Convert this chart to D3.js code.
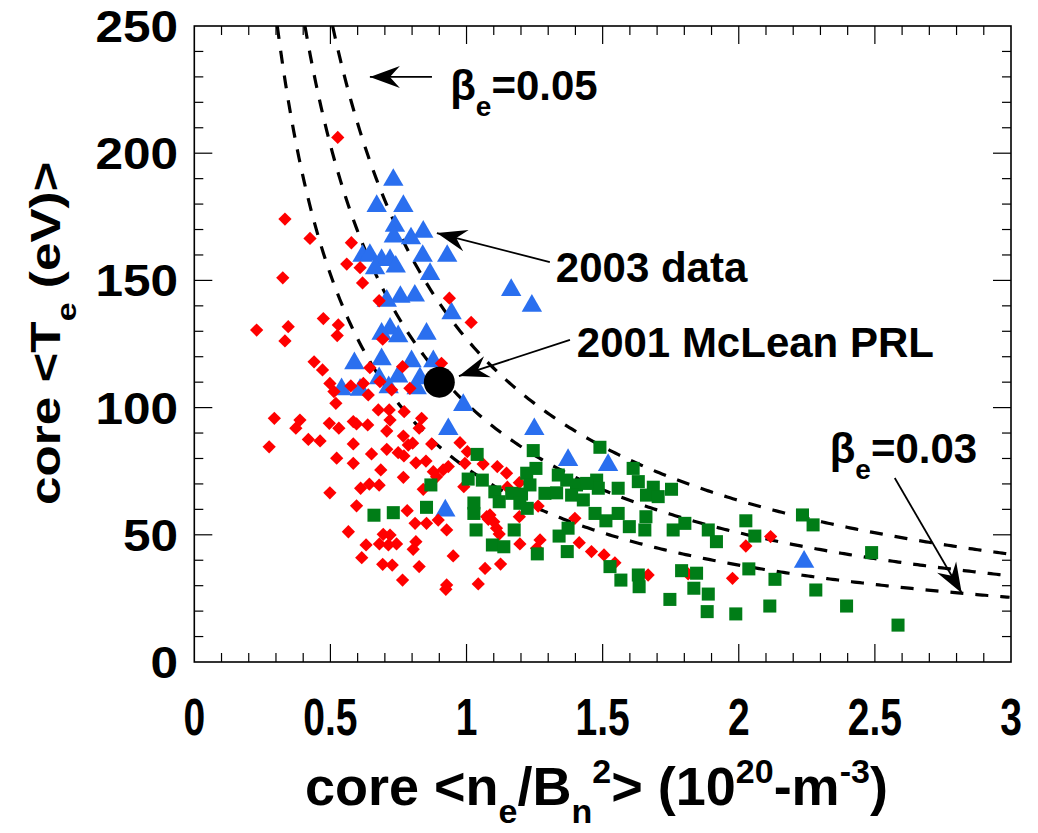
<!DOCTYPE html>
<html>
<head>
<meta charset="utf-8">
<script src="https://cdn.jsdelivr.net/npm/d3@7"></script>
<style>
  body { margin: 0; background: #fff; }
  svg { font-family: "Liberation Sans", Arial, Helvetica, sans-serif; font-weight: bold; }
</style>
</head>
<body>
<script>
// red diamonds: [n/B^2, Te]
const red = [
  [0.527,206.2],[0.333,174.1],[0.425,166.5],[0.577,164.8],[0.560,156.4],[0.609,155],[0.325,151],[0.618,149],
  [0.679,142],[0.937,143],[0.474,135],[1.017,133.5],[0.229,130.5],[0.345,131.8],[0.333,126.2],[0.529,132.5],
  [0.525,128.3],[0.692,126.9],[0.440,118],[0.471,114.8],[0.645,115.7],[0.765,116.1],[0.908,117.4],[0.498,109.5],
  [0.513,106.3],[0.520,101.7],[0.575,108.5],[0.621,109.5],[0.639,105],[0.682,110.2],[0.725,107],[0.792,107.6],
  [0.294,95.8],[0.388,95.1],[0.373,91.9],[0.419,87.5],[0.462,86.9],[0.275,84.6],[0.496,93.8],[0.531,91.9],
  [0.584,94.5],[0.596,93.6],[0.637,93.2],[0.676,99.1],[0.716,99.1],[0.719,95.1],[0.707,90.8],[0.771,98.4],
  [0.835,95.8],[0.826,91.9],[0.768,88.8],[0.802,86],[0.786,85.3],[0.872,85.7],[0.976,86.2],[0.584,85.7],
  [0.707,83.6],[0.749,82.3],[0.770,81],[0.523,80.1],[0.584,78.1],[0.651,81.8],[0.814,78.3],[0.851,79],
  [1.003,82.7],[0.685,75.5],[0.768,72.6],[0.878,74.8],[0.933,76.8],[0.994,78.1],[1.061,77.8],[0.611,68.3],
  [0.643,69.9],[0.679,69.5],[0.498,66.5],[0.841,67.9],[0.890,72.8],[0.914,75.5],[0.990,68.9],[0.596,61.4],
  [0.782,59.5],[0.811,54.5],[0.853,54.5],[0.896,55.8],[0.927,51.9],[0.566,51.2],[0.631,46],[0.680,46.4],
  [0.719,49.9],[0.713,46],[0.743,46.4],[0.694,50.2],[0.814,47.3],[0.804,44.3],[0.615,41],[0.692,38.4],
  [0.727,38.1],[0.826,37.5],[0.951,41.7],[0.765,32.2],[0.927,30.3],[0.924,28.6],[1.043,30.7],[1.068,36.8],
  [1.074,57.1],[1.113,76.8],[1.147,74.2],[1.194,70.5],[1.15,68.7],[1.086,57.8],[1.08,56.1],[1.10,55.1],
  [1.11,52.6],[1.12,50.3],[1.194,57.1],[1.263,61.3],[1.27,48],[1.196,46.4],[1.398,56.5],[1.414,46.9],
  [1.459,43.4],[1.505,42.1],[1.545,39],[1.667,34.2],[1.814,34.6],[1.125,38.5],[1.257,44.7],[2.117,49.3],
  [2.026,45.6],[1.977,32.9]
];

// blue triangles: 2003 data
const blue = [
  [0.731,189.5],[0.670,179.2],[0.768,179.2],[0.737,171.4],[0.841,169.1],[0.733,167.2],[0.796,166.5],
  [0.618,159.6],[0.645,160],[0.688,158],[0.719,158],[0.740,155.4],[0.664,154.7],[0.839,159.6],[0.929,159.6],
  [0.866,152.5],[0.757,143.5],[0.810,144],[0.707,142],[0.945,137],[0.719,131],[0.688,129],[0.749,128],
  [0.853,129],[0.588,117.4],[0.688,119],[0.798,118.2],[0.878,118.2],[0.679,111.5],[0.749,112.2],[0.829,111.5],
  [0.541,107.2],[0.609,107],[0.714,108],[0.817,107.6],[0.988,101],[0.933,91.5],[1.164,146.2],[1.24,140],
  [1.249,91.5],[1.373,79.4],[1.52,77.4],[2.24,39.4],[0.922,59.5]
];

// green squares
const green = [
  [1.039,81.6],[0.869,69.6],[1.006,71.9],[1.058,71.5],[0.66,57.7],[0.731,58.7],[0.853,60.8],[1.027,62.5],
  [1.027,58.4],[1.035,51.9],[1.095,46],[1.245,83.1],[1.49,84.4],[1.255,76.1],[1.221,74.2],[1.337,73.5],
  [1.368,71.5],[1.404,69.6],[1.478,71.5],[1.484,68.3],[1.441,70.2],[1.104,66.9],[1.166,66.3],[1.202,66],
  [1.233,69.6],[1.288,66.3],[1.331,66.5],[1.386,65.6],[1.429,63.7],[1.557,68.3],[1.612,76.1],[1.631,70.9],
  [1.686,68.7],[1.753,67.9],[1.661,65.6],[1.704,65],[1.12,63],[1.196,62.4],[1.223,60.4],[1.472,58.4],
  [1.512,55.5],[1.557,58.4],[1.659,57.1],[1.598,53.2],[1.655,51.9],[1.175,51.9],[1.34,49.5],[1.373,52.6],
  [1.137,45.3],[1.26,42.5],[1.37,43.4],[1.759,51.9],[1.802,54.5],[1.888,51.9],[1.918,47.3],[1.527,37.5],
  [1.567,32.2],[1.631,34.2],[1.634,29.6],[1.790,35.9],[1.845,34.9],[1.835,29],[1.888,26.7],[1.747,24.6],
  [1.884,19.8],[2.026,55.5],[2.059,49.5],[2.234,57.8],[2.273,53.9],[2.488,43],[1.989,18.9],[2.037,36.6],
  [2.133,32.5],[2.114,22],[2.283,28.3],[2.396,22],[2.585,14.5]
];

// 2001 McLean PRL point
const mclean = [[0.90,110]];

// constant-beta curves: Te = k * beta / (n/B^2)
const betas = [0.03, 0.04, 0.05];
const betaK = 2540;

const xTicks = [0, 0.5, 1, 1.5, 2, 2.5, 3];
const yTicks = [0, 50, 100, 150, 200, 250];

const W = 1038, H = 833;
const svg = d3.select("body").append("svg").attr("width", W).attr("height", H);

const x = d3.scaleLinear().domain([0, 3]).range([194.3, 1011]);
const y = d3.scaleLinear().domain([0, 250]).range([662, 26]);

svg.append("defs").append("clipPath").attr("id", "clip")
  .append("rect").attr("x", x(0)).attr("y", y(250)).attr("width", x(3) - x(0)).attr("height", y(0) - y(250));

// beta curves
const line = d3.line().x(d => x(d[0])).y(d => y(d[1]));
const curves = svg.append("g").attr("clip-path", "url(#clip)");
betas.forEach(b => {
  const c = b * betaK;
  const pts = d3.range(c / 250, 3.001, 0.01).map(v => [v, c / v]);
  curves.append("path").attr("d", line(pts))
    .attr("fill", "none").attr("stroke", "#000").attr("stroke-width", 3.2)
    .attr("stroke-dasharray", "13,12");
});

// markers
const pts = svg.append("g");
pts.selectAll(".tri").data(blue).join("path")
  .attr("d", d3.symbol(d3.symbolTriangle, 180))
  .attr("transform", d => `translate(${x(d[0])},${y(d[1])})`)
  .attr("fill", "#2a6fef");
pts.selectAll(".dia").data(red).join("path")
  .attr("d", d3.symbol(d3.symbolSquare, 88))
  .attr("transform", d => `translate(${x(d[0])},${y(d[1])}) rotate(45)`)
  .attr("fill", "#ff0000");
pts.selectAll(".sq").data(green).join("path")
  .attr("d", d3.symbol(d3.symbolSquare, 170))
  .attr("transform", d => `translate(${x(d[0])},${y(d[1])})`)
  .attr("fill", "#007d17");
pts.selectAll(".dot").data(mclean).join("circle")
  .attr("cx", d => x(d[0])).attr("cy", d => y(d[1])).attr("r", 15.5)
  .attr("fill", "#000");

// frame + ticks (inward, all four sides)
const axes = svg.append("g").attr("stroke", "#000").attr("fill", "none");
axes.append("rect").attr("x", x(0)).attr("y", y(250)).attr("width", x(3) - x(0)).attr("height", y(0) - y(250))
  .attr("stroke-width", 1.6);
const xt = d3.range(1, 30).map(i => i / 10);
xt.forEach(v => {
  const len = Math.abs(v * 2 - Math.round(v * 2)) < 1e-6 ? 18 : 9;
  axes.append("line").attr("x1", x(v)).attr("x2", x(v)).attr("y1", y(0)).attr("y2", y(0) - len).attr("stroke-width", 1.2);
  axes.append("line").attr("x1", x(v)).attr("x2", x(v)).attr("y1", y(250)).attr("y2", y(250) + len).attr("stroke-width", 1.2);
});
d3.range(10, 250, 10).forEach(v => {
  const len = v % 50 === 0 ? 18 : 9;
  axes.append("line").attr("y1", y(v)).attr("y2", y(v)).attr("x1", x(0)).attr("x2", x(0) + len).attr("stroke-width", 1.2);
  axes.append("line").attr("y1", y(v)).attr("y2", y(v)).attr("x1", x(3)).attr("x2", x(3) - len).attr("stroke-width", 1.2);
});

// tick labels
svg.append("g").selectAll("text").data(xTicks).join("text")
  .attr("transform", d => `translate(${x(d)},735) scale(0.75,1)`)
  .attr("text-anchor", "middle").attr("font-size", 52)
  .text(d => d);
svg.append("g").selectAll("text").data(yTicks).join("text")
  .attr("transform", d => `translate(178,${y(d) + 16}) scale(1.1,1)`)
  .attr("text-anchor", "end").attr("font-size", 45)
  .text(d => d);

// axis titles
const xt1 = svg.append("text").attr("transform", "translate(305,805) scale(1.0,1)").attr("font-size", 54);
xt1.append("tspan").text("core <n");
xt1.append("tspan").attr("font-size", 34).attr("dy", 18).text("e");
xt1.append("tspan").attr("dy", -18).text("/B");
xt1.append("tspan").attr("font-size", 34).attr("dy", 18).text("n");
xt1.append("tspan").attr("font-size", 34).attr("dy", -40).text("2");
xt1.append("tspan").attr("dy", 22).text("> (10");
xt1.append("tspan").attr("font-size", 34).attr("dy", -22).text("20");
xt1.append("tspan").attr("dy", 22).text("-m");
xt1.append("tspan").attr("font-size", 34).attr("dy", -22).text("-3");
xt1.append("tspan").attr("dy", 22).text(")");

const yt1 = svg.append("text").attr("transform", "translate(60,505) rotate(-90) scale(1.22,1)").attr("font-size", 42);
yt1.append("tspan").text("core <T");
yt1.append("tspan").attr("font-size", 28).attr("dy", 16).text("e");
yt1.append("tspan").attr("dy", -16).text(" (eV)>");

// annotations
function arrow(x1, y1, x2, y2) {
  const a = Math.atan2(y(y2) - y(y1), x(x2) - x(x1)) * 180 / Math.PI;
  svg.append("line").attr("x1", x(x1)).attr("y1", y(y1)).attr("x2", x(x2)).attr("y2", y(y2))
    .attr("stroke", "#000").attr("stroke-width", 1.8);
  svg.append("path").attr("d", "M0,0 L-30,-11 L-20,0 L-30,11 Z")
    .attr("transform", `translate(${x(x2)},${y(y2)}) rotate(${a})`).attr("fill", "#000");
}
function betaLabel(xv, yv, val) {
  const t = svg.append("text").attr("x", x(xv)).attr("y", y(yv)).attr("font-size", 42);
  t.append("tspan").text("β");
  t.append("tspan").attr("font-size", 28).attr("dy", 16).text("e");
  t.append("tspan").attr("dy", -16).text("=" + val);
}
arrow(0.873, 230, 0.645, 230);
betaLabel(0.940, 220.8, "0.05");
arrow(1.306, 157.2, 0.891, 168.6);
svg.append("text").attr("x", x(1.328)).attr("y", y(149.4)).attr("font-size", 42).text("2003 data");
arrow(1.380, 126.6, 0.972, 112.4);
svg.append("text").attr("x", x(1.405)).attr("y", y(119.9)).attr("font-size", 42).text("2001 McLean PRL");
arrow(2.573, 72.3, 2.819, 27.1);
betaLabel(2.334, 78.2, "0.03");
</script>
</body>
</html>
